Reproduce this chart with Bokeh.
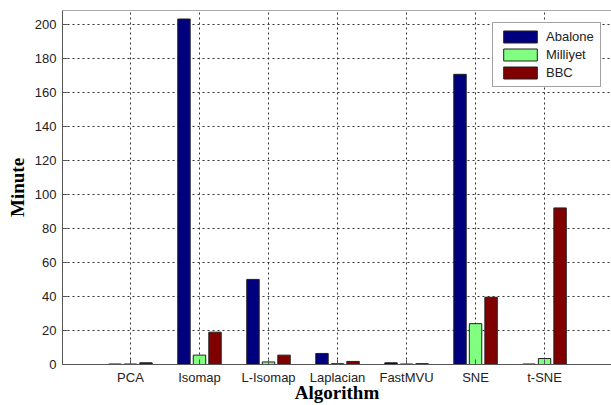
import numpy as np
from bokeh.plotting import figure
from bokeh.models import FixedTicker, Legend, LegendItem, Range1d, Span
from bokeh.embed import file_html
from bokeh.resources import INLINE

algorithms = ["PCA", "Isomap", "L-Isomap", "Laplacian", "FastMVU", "SNE", "t-SNE"]
abalone = [0.3, 203, 50, 6.5, 1.0, 170.5, 0.3]
milliyet = [0.3, 5.5, 1.5, 0.5, 0.3, 24, 3.5]
bbc = [1.0, 19, 5.5, 1.8, 0.5, 39.5, 92]
series_names = ["Abalone", "Milliyet", "BBC"]
series_colors = ["#00007F", "#80FF80", "#800000"]
y_ticks = [0, 20, 40, 60, 80, 100, 120, 140, 160, 180, 200]
y_max = 208

pos = np.arange(1, len(algorithms) + 1)

p = figure(width=611, height=405, output_backend="svg", toolbar_location=None,
           x_range=Range1d(0.015, 7.97), y_range=Range1d(0, y_max),
           min_border_left=62, min_border_right=0, min_border_top=10, min_border_bottom=41,
           x_axis_label="Algorithm", y_axis_label="Minute")
p.outline_line_color = None
p.background_fill_color = "white"

renderers = []
for vals, off, col in zip([abalone, milliyet, bbc], [-0.225, 0.0, 0.225], series_colors):
    r = p.vbar(x=pos + off, top=vals, bottom=0, width=0.18, fill_color=col,
               line_color="#202020", line_width=1)
    renderers.append(r)

for ax in [p.xaxis[0], p.yaxis[0]]:
    ax.major_tick_in = 5
    ax.major_tick_out = 0
    ax.minor_tick_in = 0
    ax.minor_tick_out = 0
    ax.axis_line_color = "#555555"
    ax.major_tick_line_color = "#555555"
    ax.major_label_text_font = "Liberation Sans"
    ax.major_label_text_font_size = "13px"
    ax.major_label_text_color = "#222222"
    ax.axis_label_text_font = "Liberation Serif"
    ax.axis_label_text_font_style = "bold"
    ax.axis_label_text_font_size = "19px"
    ax.axis_label_text_color = "#000000"

p.xaxis.ticker = FixedTicker(ticks=list(pos))
p.xaxis.major_label_overrides = {int(i): a for i, a in zip(pos, algorithms)}
p.xaxis.major_label_standoff = 5
p.xaxis.axis_label_standoff = -6
p.yaxis.ticker = FixedTicker(ticks=y_ticks)
p.yaxis.major_label_standoff = 6
p.yaxis.axis_label_standoff = 4

p.add_layout(Span(location=y_max, dimension="width", line_color="#555555", line_width=1))

p.xgrid.ticker = FixedTicker(ticks=list(pos))
p.ygrid.ticker = FixedTicker(ticks=y_ticks)
for g in [p.xgrid[0], p.ygrid[0]]:
    g.grid_line_color = "#333333"
    g.grid_line_dash = "2 3"
    g.grid_line_width = 1

legend = Legend(items=[LegendItem(label=n, renderers=[r]) for n, r in zip(series_names, renderers)],
                location=(430, 277))
legend.label_text_font = "Liberation Sans"
legend.label_text_font_size = "13px"
legend.label_text_color = "#222222"
legend.glyph_width = 42
legend.glyph_height = 15
legend.spacing = 3
legend.padding = 6
legend.label_standoff = 5
legend.border_line_color = "#444444"
legend.border_line_width = 1
legend.background_fill_alpha = 1.0
p.add_layout(legend, "center")

open("out.html", "w").write(file_html(p, INLINE))
